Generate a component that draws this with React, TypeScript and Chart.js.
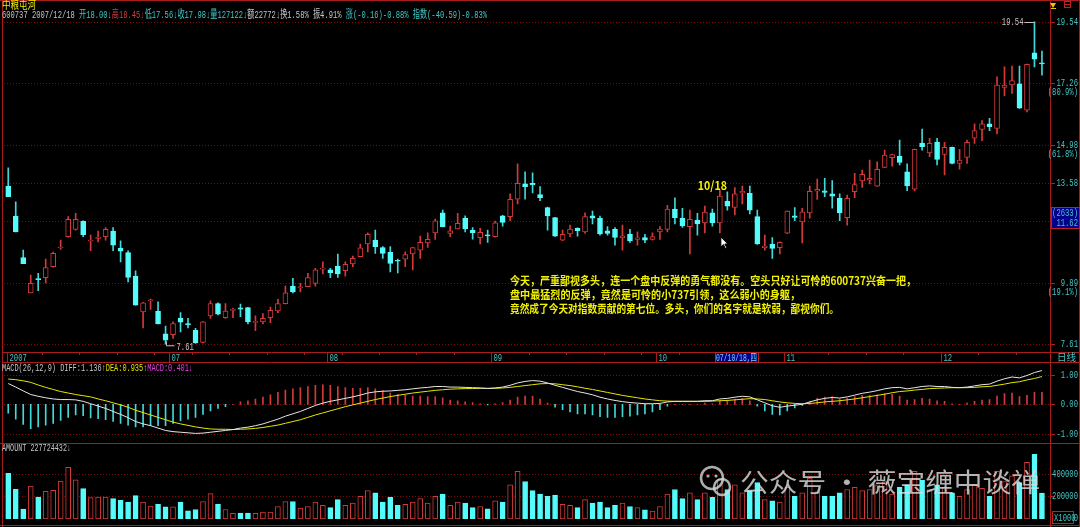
import React, { useEffect, useRef } from "react";
import { Chart, registerables } from "chart.js";
Chart.register(...registerables);

// ---------------- DATA ----------------
const open = [13.46,12.35,10.82,9.51,10.03,10.07,10.48,11.17,11.59,11.86,
 12.16,11.43,11.53,11.59,11.80,11.17,11.00,10.13,8.81,9.22,
 8.83,8.00,7.97,8.58,8.38,8.13,7.68,8.66,9.12,8.59,
 8.86,8.96,8.97,8.42,8.44,8.59,8.84,9.11,9.76,9.70,
 9.74,9.86,10.39,10.36,10.50,10.33,10.58,10.85,11.32,11.46,
 11.19,11.01,10.70,10.76,10.95,11.09,11.36,11.73,12.47,11.71,
 11.88,12.27,11.83,11.55,11.65,11.59,12.36,12.33,12.98,13.54,
 13.56,13.15,12.67,12.30,11.46,11.69,11.90,11.77,12.36,12.27,
 11.81,11.86,11.55,11.68,11.49,11.56,11.49,11.77,11.86,12.61,
 12.27,11.96,12.20,12.10,12.47,12.10,12.90,12.67,13.21,13.19,
 12.33,11.18,11.32,11.18,11.72,12.36,12.14,12.47,13.27,13.29,
 13.17,13.01,12.29,13.25,13.65,13.68,13.46,14.15,14.51,14.57,
 13.99,13.35,15.05,14.69,15.09,14.63,14.89,14.30,14.52,15.23,
 15.56,15.76,15.59,17.11,17.20,17.24,16.27,18.39,18.00];
const high = [14.14,12.88,11.09,10.17,10.23,10.76,11.02,11.46,12.33,12.45,
 12.18,11.65,11.80,11.93,11.93,11.44,11.07,10.33,9.16,9.28,
 9.18,8.28,8.44,8.78,8.57,8.20,8.45,9.22,9.14,9.12,
 8.94,9.10,8.98,8.66,8.75,8.99,9.27,9.76,10.05,9.86,
 10.23,10.42,10.66,10.42,10.95,10.66,10.87,11.32,11.73,11.83,
 11.22,11.22,10.76,11.03,11.20,11.61,11.73,12.24,12.57,11.98,
 12.45,12.36,11.93,11.90,11.83,12.17,12.38,13.17,14.28,13.99,
 13.95,13.44,12.68,12.31,11.83,12.02,11.92,12.47,12.54,12.35,
 11.96,11.93,12.02,11.86,11.77,11.68,11.73,11.96,12.75,13.03,
 12.64,12.57,12.45,12.72,12.61,13.31,13.25,13.41,13.46,13.46,
 12.57,11.65,11.56,11.40,12.55,12.67,12.64,13.46,13.72,13.75,
 13.66,13.17,13.13,13.93,14.05,14.42,14.36,14.79,14.64,15.16,
 14.28,14.83,15.57,15.23,15.23,15.08,14.90,14.82,15.16,15.76,
 15.88,15.97,17.50,17.87,17.90,17.90,17.97,19.54,18.45];
const low = [13.07,11.77,10.59,9.51,9.59,9.88,10.46,11.12,11.57,11.83,
 11.59,11.07,11.40,11.46,11.07,10.66,9.92,9.06,8.22,8.90,
 8.36,7.61,7.83,8.07,8.22,7.64,7.66,8.57,8.70,8.57,
 8.59,8.63,8.36,8.11,8.36,8.41,8.78,9.10,9.51,9.55,
 9.74,9.76,10.21,10.07,10.08,10.13,10.48,10.84,11.03,10.97,
 10.79,10.29,10.25,10.48,10.36,10.79,11.19,11.49,11.95,11.59,
 11.88,11.77,11.50,11.32,11.38,11.57,11.98,12.18,12.80,12.98,
 13.21,12.92,11.83,11.60,11.44,11.59,11.61,11.71,12.06,11.65,
 11.65,11.28,11.09,11.38,11.28,11.37,11.46,11.49,11.77,12.06,
 11.93,10.95,11.65,11.73,11.98,11.73,12.57,12.39,12.80,12.43,
 11.30,11.09,10.79,10.95,11.70,12.18,11.36,12.27,12.97,13.07,
 12.64,12.18,12.02,13.03,13.41,13.54,13.45,14.14,14.20,14.24,
 13.29,13.28,14.79,14.55,14.24,13.87,14.28,14.09,14.30,15.04,
 15.14,15.51,15.39,16.80,16.89,16.33,16.20,17.87,17.56];
const close = [13.07,11.77,10.59,9.86,10.00,10.45,10.97,11.20,12.23,12.23,
 11.66,11.45,11.57,11.86,11.28,11.05,10.08,9.06,9.14,9.24,
 8.36,7.76,8.38,8.43,8.33,7.66,8.44,9.12,8.72,8.84,
 8.90,8.91,8.44,8.45,8.57,8.87,9.12,9.51,9.55,9.73,
 10.08,10.36,10.41,10.26,10.21,10.57,10.79,11.18,11.68,11.22,
 10.97,10.60,10.68,10.93,11.19,11.38,11.49,12.18,11.96,11.81,
 12.08,11.88,11.73,11.75,11.62,12.10,12.12,12.97,13.56,13.44,
 13.50,13.03,12.36,11.61,11.68,11.87,11.81,12.33,12.27,11.69,
 11.71,11.56,11.62,11.43,11.55,11.46,11.59,11.87,12.61,12.29,
 11.99,12.23,12.06,12.50,12.10,13.09,12.72,13.17,13.27,12.57,
 11.32,11.24,11.16,11.38,12.54,12.30,12.51,13.27,13.34,13.23,
 13.09,12.47,13.01,13.52,13.90,13.75,14.08,14.61,14.63,14.34,
 13.47,14.82,14.92,15.04,14.45,14.89,14.30,14.42,15.08,15.51,
 15.76,15.66,17.20,17.20,17.36,16.34,17.96,18.15,17.98];
// AMOUNT, in units of 1000
const amount = [402600,261000,87000,290000,194000,243000,252000,333000,455000,345000,
 267000,189000,194000,194000,180000,165000,148000,206000,148000,113000,
 130000,107000,107000,148000,72000,84000,154000,223000,130000,84000,
 50000,52000,52000,50000,61000,61000,110000,154000,154000,96000,
 110000,150000,120000,100000,170000,120000,140000,200000,250000,230000,
 150000,190000,120000,130000,150000,180000,140000,200000,220000,120000,
 150000,140000,100000,110000,90000,160000,150000,300000,420000,330000,
 250000,220000,200000,210000,130000,120000,100000,170000,140000,150000,
 100000,120000,140000,110000,100000,80000,70000,110000,220000,260000,
 180000,230000,170000,230000,190000,350000,260000,300000,230000,250000,
 320000,170000,160000,150000,280000,200000,230000,360000,240000,200000,
 200000,230000,260000,280000,250000,260000,300000,330000,220000,280000,
 300000,420000,340000,260000,300000,280000,230000,200000,260000,300000,
 270000,200000,420000,330000,380000,320000,500000,570000,227724.432];
const diff = [0.70,0.58,0.45,0.33,0.27,0.22,0.18,0.16,0.16,0.15,
 0.10,0.02,-0.06,-0.14,-0.24,-0.34,-0.45,-0.58,-0.66,-0.72,
 -0.80,-0.88,-0.92,-0.94,-0.96,-0.98,-0.97,-0.94,-0.91,-0.88,
 -0.85,-0.80,-0.77,-0.72,-0.66,-0.58,-0.50,-0.40,-0.32,-0.24,
 -0.14,-0.04,0.04,0.10,0.15,0.20,0.25,0.31,0.38,0.42,
 0.44,0.45,0.47,0.49,0.52,0.55,0.57,0.60,0.60,0.58,
 0.58,0.57,0.56,0.55,0.53,0.55,0.58,0.64,0.72,0.77,
 0.80,0.78,0.72,0.64,0.57,0.50,0.43,0.38,0.32,0.24,
 0.18,0.13,0.09,0.06,0.04,0.02,0.02,0.03,0.08,0.10,
 0.10,0.10,0.10,0.12,0.12,0.18,0.20,0.24,0.27,0.25,
 0.15,0.05,-0.05,-0.10,-0.06,-0.03,0.00,0.08,0.15,0.20,
 0.23,0.21,0.25,0.31,0.37,0.41,0.46,0.52,0.56,0.57,
 0.52,0.56,0.60,0.62,0.60,0.60,0.57,0.56,0.58,0.62,
 0.66,0.68,0.78,0.86,0.92,0.89,0.97,1.07,1.136];
const dea = [0.85,0.83,0.79,0.74,0.65,0.57,0.50,0.43,0.38,0.33,
 0.29,0.25,0.18,0.12,0.05,-0.02,-0.10,-0.20,-0.28,-0.36,
 -0.44,-0.52,-0.60,-0.66,-0.71,-0.76,-0.80,-0.83,-0.84,-0.84,
 -0.85,-0.84,-0.83,-0.81,-0.78,-0.74,-0.70,-0.64,-0.58,-0.52,
 -0.44,-0.36,-0.29,-0.22,-0.15,-0.08,-0.02,0.04,0.10,0.16,
 0.21,0.26,0.30,0.34,0.38,0.41,0.44,0.47,0.49,0.51,
 0.52,0.53,0.53,0.54,0.54,0.54,0.55,0.57,0.60,0.63,
 0.66,0.69,0.70,0.69,0.66,0.63,0.59,0.54,0.50,0.45,
 0.40,0.35,0.30,0.26,0.22,0.18,0.15,0.12,0.11,0.10,
 0.10,0.10,0.10,0.10,0.11,0.12,0.13,0.15,0.17,0.19,
 0.18,0.16,0.12,0.08,0.05,0.03,0.02,0.03,0.05,0.08,
 0.10,0.12,0.15,0.18,0.22,0.26,0.30,0.34,0.39,0.43,
 0.45,0.48,0.50,0.53,0.54,0.55,0.56,0.56,0.56,0.57,
 0.59,0.60,0.64,0.68,0.73,0.76,0.82,0.87,0.935];
const macdBar = [-0.30,-0.50,-0.68,-0.82,-0.76,-0.70,-0.64,-0.54,-0.44,-0.36,
 -0.38,-0.46,-0.48,-0.52,-0.58,-0.64,-0.70,-0.76,-0.76,-0.72,
 -0.72,-0.72,-0.64,-0.56,-0.50,-0.44,-0.34,-0.22,-0.14,-0.08,
 0.00,0.08,0.12,0.18,0.24,0.32,0.40,0.48,0.52,0.56,
 0.60,0.64,0.66,0.64,0.60,0.56,0.54,0.54,0.56,0.52,
 0.46,0.38,0.34,0.30,0.28,0.28,0.26,0.26,0.22,0.14,
 0.12,0.08,0.06,0.02,-0.02,0.02,0.06,0.14,0.24,0.28,
 0.28,0.18,0.04,-0.10,-0.18,-0.26,-0.32,-0.32,-0.36,-0.42,
 -0.44,-0.44,-0.42,-0.40,-0.36,-0.32,-0.26,-0.18,-0.06,0.00,
 0.00,0.00,0.00,0.04,0.02,0.12,0.14,0.18,0.20,0.12,
 -0.06,-0.22,-0.34,-0.36,-0.22,-0.12,-0.04,0.10,0.20,0.24,
 0.26,0.18,0.20,0.26,0.30,0.30,0.32,0.36,0.34,0.28,
 0.14,0.16,0.20,0.18,0.12,0.10,0.02,0.00,0.04,0.10,
 0.14,0.16,0.28,0.36,0.38,0.26,0.30,0.40,0.401];

const monthLabels = ["2007", "07", "08", "09", "10", "11", "12"];
const monthStart = [0, 22, 43, 65, 87, 104, 125];
const priceTicks = [19.54, 17.26, 14.98, 13.58, 12.17, 9.89, 7.61];
const priceTickText = ["19.54", "17.26", "14.98", "13.58", "", "9.89", "7.61"];
const priceTickPct = ["", "(80.9%)", "(61.8%)", "", "", "(19.1%)", ""];
const macdTicks = [1, 0, -1];
const macdTickText = ["1.00", "0.00", "-1.00"];
const amountTicks = [400000, 200000];
const stockTitle = "中粮屯河";
const noteLines = [
  "今天，严重鄙视多头，连一个盘中反弹的勇气都没有。空头只好让可怜的600737兴奋一把，",
  "盘中最猛烈的反弹，竟然是可怜的小737引领，这么弱小的身躯，",
  "竟然成了今天对指数贡献的第七位。多头，你们的名字就是软弱，鄙视你们。",
];
const markIndex = 95; // 2007/10/18
const markLabel = "10/18";
const cursorDate = "07/10/18,四";
const days = open.map((_, i) => "d" + i);
const isUp = close.map((c, i) => c >= open[i]);

// ---------------- STYLE ----------------
const FRAME = "#a81c1c";
const GRID = "#7c0c0c";
const UPC = "#d43a3a";
const CYAN = "#54fcfc";
const WICK_CYAN = "#40d8d8";
const AXT = "#46c4c4";
const GRAY = "#c4c4c4";
const YEL = "#f2f200";
const MONO = '10px "Liberation Mono", "Noto Sans CJK SC"';

function txt(ctx: any, s: string, x: number, y: number, color: string, font = MONO, align = "left", sx = 0.72) {
  ctx.save();
  ctx.font = font;
  ctx.fillStyle = color;
  ctx.textBaseline = "middle";
  ctx.translate(x, y);
  ctx.scale(sx, 1);
  ctx.textAlign = align;
  ctx.fillText(s, 0, 0);
  ctx.restore();
}
function rich(ctx: any, segs: [string, string][], x: number, y: number, w: number, font: string) {
  ctx.save();
  ctx.font = font;
  const total = segs.reduce((s, [t]) => s + ctx.measureText(t).width, 0);
  ctx.translate(x, y);
  ctx.scale(w / total, 1);
  ctx.textBaseline = "middle";
  ctx.textAlign = "left";
  let cx = 0;
  for (const [t, c] of segs) {
    ctx.fillStyle = c;
    ctx.fillText(t, cx, 0);
    cx += ctx.measureText(t).width;
  }
  ctx.restore();
}
function hline(ctx: any, x0: number, x1: number, y: number, color: string, dash: number[] = []) {
  ctx.save();
  ctx.strokeStyle = color;
  ctx.lineWidth = 1;
  ctx.setLineDash(dash);
  ctx.beginPath();
  ctx.moveTo(x0, y);
  ctx.lineTo(x1, y);
  ctx.stroke();
  ctx.restore();
}
function vline(ctx: any, x: number, y0: number, y1: number, color: string) {
  ctx.save();
  ctx.strokeStyle = color;
  ctx.lineWidth = 1;
  ctx.beginPath();
  ctx.moveTo(x, y0);
  ctx.lineTo(x, y1);
  ctx.stroke();
  ctx.restore();
}
function frameSides(ctx: any, h: number) {
  vline(ctx, 2.5, 0, h, FRAME);
  vline(ctx, 1050.5, 0, h, FRAME);
  vline(ctx, 1079.5, 0, h, FRAME);
}

const PAD = { left: 4.5, right: 34.3 };

// ---------------- PRICE PANE ----------------
const pricePlugin = {
  id: "pricePane",
  beforeDraw(chart: any) {
    const { ctx, width, height } = chart;
    ctx.save();
    ctx.fillStyle = "#000";
    ctx.fillRect(0, 0, width, height);
    ctx.restore();
    const y = chart.scales.y;
    priceTicks.forEach((v) => {
      const py = Math.round(y.getPixelForValue(v)) + 0.5;
      hline(ctx, 4, 1050, py, GRID, [1, 2]);
    });
  },
  afterDraw(chart: any) {
    const { ctx } = chart;
    const x = chart.scales.x;
    const y = chart.scales.y;
    const half = (x.getPixelForValue(1) - x.getPixelForValue(0)) / 2;
    hline(ctx, 0, 1080, 0.5, FRAME);
    frameSides(ctx, 363);
    rich(ctx, [[stockTitle, "#f0f000"]], 2, 5, 34, '11px "Noto Sans CJK SC"');
    rich(
      ctx,
      [
        ["600737 2007/12/18 ", GRAY],
        ["开18.00", AXT], ["↓", AXT],
        ["高18.45", UPC], ["↓", UPC],
        ["低17.56", AXT], ["↓", AXT],
        ["收17.98", AXT], ["↓", AXT],
        ["量127122", AXT], ["↓", AXT],
        ["额22772", GRAY], ["↓", GRAY],
        ["换1.58% ", GRAY],
        ["振4.91% ", GRAY],
        ["涨(-0.16)-0.88% ", AXT],
        ["指数(-40.59)-0.83%", AXT],
      ],
      2, 15, 485, '11px "Liberation Mono", "Noto Sans CJK SC"'
    );
    ctx.save();
    ctx.fillStyle = "#e8c800";
    ctx.beginPath();
    ctx.moveTo(1050, 3); ctx.lineTo(1056, 3); ctx.lineTo(1053, 8); ctx.closePath(); ctx.fill();
    ctx.fillRect(1051, 8, 5, 1);
    ctx.strokeStyle = "#c02020";
    ctx.strokeRect(1064.5, 1.5, 6, 6);
    hline(ctx, 1064, 1071, 4.5, "#c02020");
    ctx.restore();
    priceTicks.forEach((v, i) => {
      const py = Math.round(y.getPixelForValue(v)) + 0.5;
      if (!priceTickText[i]) return;
      hline(ctx, 1051, 1055, py, FRAME);
      txt(ctx, priceTickText[i], 1078, py, AXT, MONO, "right");
      if (priceTickPct[i]) txt(ctx, priceTickPct[i], 1078, py + 9, AXT, MONO, "right");
    });
    ctx.save();
    ctx.fillStyle = "#00008c";
    ctx.fillRect(1052, 208, 27, 20);
    ctx.strokeStyle = "#c02020";
    ctx.strokeRect(1051.5, 207.5, 28, 21);
    ctx.restore();
    txt(ctx, "(2633)", 1078, 213, AXT, MONO, "right");
    txt(ctx, "11.62", 1078, 223, AXT, MONO, "right");
    const iMax = high.indexOf(Math.max(...high));
    const xm = x.getPixelForValue(iMax);
    const ym = Math.round(y.getPixelForValue(high[iMax])) + 0.5;
    hline(ctx, xm - 10, xm, ym, GRAY);
    txt(ctx, high[iMax].toFixed(2), xm - 11, ym, GRAY, MONO, "right");
    const iMin = low.indexOf(Math.min(...low));
    const xn = Math.round(x.getPixelForValue(iMin)) + 0.5;
    const yn = y.getPixelForValue(low[iMin]);
    ctx.save();
    ctx.strokeStyle = GRAY;
    ctx.beginPath();
    ctx.moveTo(xn, yn - 3); ctx.lineTo(xn, yn + 1.5); ctx.lineTo(xn + 8, yn + 1.5);
    ctx.stroke();
    ctx.restore();
    txt(ctx, low[iMin].toFixed(2), xn + 10, yn + 3, GRAY, MONO, "left");
    const ly = [281, 295, 309];
    const lw = [406, 290, 329];
    noteLines.forEach((s, i) => rich(ctx, [[s, YEL]], 510, ly[i], lw[i], 'bold 11px "Noto Sans CJK SC"'));
    const xMark = x.getPixelForValue(markIndex);
    rich(ctx, [[markLabel, YEL]], xMark - 22, 185, 29, 'bold 12px "Noto Sans CJK SC"');
    const px0 = xMark + 1, py0 = 237;
    ctx.save();
    ctx.fillStyle = "#fff";
    ctx.strokeStyle = "#000";
    ctx.beginPath();
    ctx.moveTo(px0, py0);
    ctx.lineTo(px0, py0 + 10);
    ctx.lineTo(px0 + 2.5, py0 + 7.5);
    ctx.lineTo(px0 + 4.5, py0 + 11.5);
    ctx.lineTo(px0 + 6, py0 + 10.8);
    ctx.lineTo(px0 + 4, py0 + 7);
    ctx.lineTo(px0 + 7, py0 + 7);
    ctx.closePath();
    ctx.fill();
    ctx.stroke();
    ctx.restore();
    hline(ctx, 2, 1080, 352.5, FRAME);
    hline(ctx, 2, 1080, 362.5, FRAME);
    for (let i = 5; i < open.length; i += 5) {
      const tx = Math.round(x.getPixelForValue(i) - half) + 0.5;
      vline(ctx, tx, 352, 355, FRAME);
    }
    monthStart.forEach((idx, k) => {
      const mx = Math.round(x.getPixelForValue(idx) - half) + 0.5 + (k === 0 ? 3 : 0);
      vline(ctx, mx, 352, 362, FRAME);
      txt(ctx, monthLabels[k], mx + 2, 358, AXT, MONO, "left");
    });
    const bx = Math.round(xMark - 5);
    ctx.save();
    ctx.fillStyle = "#00008c";
    ctx.fillRect(bx, 353, 43, 9);
    ctx.strokeStyle = "#c02020";
    ctx.strokeRect(bx + 0.5, 352.5, 43, 10);
    ctx.restore();
    rich(ctx, [[cursorDate, "#6cd8f0"]], bx + 1, 358, 41, '10px "Liberation Mono", "Noto Sans CJK SC"');
    rich(ctx, [["日线", AXT]], 1057, 357.5, 19, '10px "Noto Sans CJK SC"');
  },
};

function priceConfig(): any {
  return {
    type: "bar",
    data: {
      labels: days,
      datasets: [
        {
          label: "body",
          data: open.map((o, i) => [o, close[i]]),
          backgroundColor: isUp.map((u) => (u ? "#000" : CYAN)),
          borderColor: isUp.map((u) => (u ? UPC : CYAN)),
          borderWidth: 1,
          borderSkipped: false,
          barThickness: 5,
          minBarLength: 1,
          grouped: false,
        },
        {
          label: "wick",
          data: low.map((l, i) => [l, high[i]]),
          backgroundColor: isUp.map((u) => (u ? UPC : WICK_CYAN)),
          borderWidth: 0,
          barThickness: 1,
          grouped: false,
        },
      ],
    },
    options: {
      responsive: false,
      animation: false,
      devicePixelRatio: 1,
      events: [],
      layout: { padding: { left: PAD.left, right: PAD.right, top: 10, bottom: 11 } },
      plugins: { legend: { display: false }, tooltip: { enabled: false } },
      scales: {
        x: { display: false, offset: true, grid: { display: false } },
        y: { display: false, min: 7.325, max: 19.973 },
      },
    },
    plugins: [pricePlugin],
  };
}

// ---------------- MACD PANE ----------------
const macdPlugin = {
  id: "macdPane",
  beforeDraw(chart: any) {
    const { ctx, width, height } = chart;
    ctx.save();
    ctx.fillStyle = "#000";
    ctx.fillRect(0, 0, width, height);
    ctx.restore();
    const y = chart.scales.y;
    macdTicks.forEach((v) => hline(ctx, 4, 1050, Math.round(y.getPixelForValue(v)) + 0.5, GRID, [1, 2]));
  },
  afterDraw(chart: any) {
    const { ctx } = chart;
    const y = chart.scales.y;
    frameSides(ctx, 80);
    macdTicks.forEach((v, i) => {
      const py = Math.round(y.getPixelForValue(v)) + 0.5;
      hline(ctx, 1051, 1055, py, FRAME);
      txt(ctx, macdTickText[i], 1078, py, AXT, MONO, "right");
    });
    const n = diff.length - 1;
    rich(
      ctx,
      [
        ["MACD(26,12,9) DIFF:" + diff[n].toFixed(3), GRAY], ["↑", GRAY],
        ["DEA:" + dea[n].toFixed(3), "#e0e000"], ["↑", "#e0e000"],
        ["MACD:" + macdBar[n].toFixed(3), "#e040e0"], ["↓", "#e040e0"],
      ],
      2, 5, 191, '10px "Liberation Mono", "Noto Sans CJK SC"'
    );
  },
};

function macdConfig(): any {
  return {
    type: "bar",
    data: {
      labels: days,
      datasets: [
        { type: "line", label: "DIFF", data: diff, borderColor: "#e6e6e6", borderWidth: 1, pointRadius: 0, tension: 0, fill: false },
        { type: "line", label: "DEA", data: dea, borderColor: "#e6e600", borderWidth: 1, pointRadius: 0, tension: 0, fill: false },
        {
          type: "bar",
          label: "MACD",
          data: macdBar,
          backgroundColor: macdBar.map((v) => (v >= 0 ? UPC : WICK_CYAN)),
          borderWidth: 0,
          barThickness: 1,
          grouped: false,
        },
      ],
    },
    options: {
      responsive: false,
      animation: false,
      devicePixelRatio: 1,
      events: [],
      layout: { padding: { left: PAD.left, right: PAD.right, top: 0, bottom: 0 } },
      plugins: { legend: { display: false }, tooltip: { enabled: false } },
      scales: {
        x: { display: false, offset: true, grid: { display: false } },
        y: { display: false, min: -1.303, max: 1.391 },
      },
    },
    plugins: [macdPlugin],
  };
}

// ---------------- AMOUNT PANE ----------------
const volPlugin = {
  id: "volPane",
  beforeDraw(chart: any) {
    const { ctx, width, height } = chart;
    ctx.save();
    ctx.fillStyle = "#000";
    ctx.fillRect(0, 0, width, height);
    ctx.restore();
    const y = chart.scales.y;
    amountTicks.forEach((v) => hline(ctx, 4, 1050, Math.round(y.getPixelForValue(v)) + 0.5, GRID, [1, 2]));
  },
  afterDraw(chart: any) {
    const { ctx } = chart;
    const y = chart.scales.y;
    hline(ctx, 0, 1080, 0.5, FRAME);
    hline(ctx, 0, 1080, 82.5, FRAME);
    frameSides(ctx, 84);
    amountTicks.forEach((v) => {
      const py = Math.round(y.getPixelForValue(v)) + 0.5;
      hline(ctx, 1051, 1055, py, FRAME);
      txt(ctx, String(v), 1078, py, AXT, MONO, "right");
    });
    txt(ctx, "0", 1078, Math.round(y.getPixelForValue(0)) - 1, AXT, MONO, "right");
    ctx.save();
    ctx.fillStyle = "#000";
    ctx.fillRect(1052, 68, 22, 13);
    ctx.strokeStyle = "#c02020";
    ctx.strokeRect(1052.5, 68.5, 21, 12);
    ctx.restore();
    txt(ctx, "X1000", 1054, 75, AXT, MONO, "left");
    rich(ctx, [["AMOUNT " + Math.round(amount[amount.length - 1] * 1000), GRAY], ["↓", GRAY]], 2, 5, 69, '10px "Liberation Mono", "Noto Sans CJK SC"');
    ctx.save();
    ctx.globalAlpha = 0.8;
    ctx.strokeStyle = "#d8d8d8";
    ctx.fillStyle = "#d8d8d8";
    ctx.lineWidth = 2.5;
    ctx.beginPath();
    ctx.arc(712, 35, 11, 0, Math.PI * 2);
    ctx.stroke();
    ctx.beginPath();
    ctx.arc(722, 44, 8, 0, Math.PI * 2);
    ctx.stroke();
    ctx.beginPath();
    ctx.arc(708, 33, 1.6, 0, Math.PI * 2);
    ctx.arc(716, 33, 1.6, 0, Math.PI * 2);
    ctx.fill();
    ctx.restore();
    ctx.save();
    ctx.globalAlpha = 0.82;
    rich(ctx, [["公众号 · 薇宝缠中谈禅", "#dcdcdc"]], 740, 39, 300, '26px "Noto Sans CJK SC"');
    ctx.restore();
  },
};

function volConfig(): any {
  return {
    type: "bar",
    data: {
      labels: days,
      datasets: [
        {
          label: "AMOUNT",
          data: amount,
          backgroundColor: isUp.map((u) => (u ? "#000" : CYAN)),
          borderColor: isUp.map((u) => (u ? UPC : CYAN)),
          borderWidth: 1,
          borderSkipped: false,
          barThickness: 5,
          grouped: false,
        },
      ],
    },
    options: {
      responsive: false,
      animation: false,
      devicePixelRatio: 1,
      events: [],
      layout: { padding: { left: PAD.left, right: PAD.right, top: 0, bottom: 8 } },
      plugins: { legend: { display: false }, tooltip: { enabled: false } },
      scales: {
        x: { display: false, offset: true, grid: { display: false } },
        y: { display: false, min: 0, max: 669600 },
      },
    },
    plugins: [volPlugin],
  };
}

export default function App() {
  const pRef = useRef<HTMLCanvasElement>(null);
  const mRef = useRef<HTMLCanvasElement>(null);
  const vRef = useRef<HTMLCanvasElement>(null);
  useEffect(() => {
    document.body.style.margin = "0";
    document.body.style.background = "#000";
    const charts = [
      new Chart(pRef.current as HTMLCanvasElement, priceConfig()),
      new Chart(mRef.current as HTMLCanvasElement, macdConfig()),
      new Chart(vRef.current as HTMLCanvasElement, volConfig()),
    ];
    return () => charts.forEach((c) => c.destroy());
  }, []);
  const cs = (top: number, h: number): any => ({ position: "absolute", left: 0, top, width: 1080, height: h, display: "block" });
  return (
    <div style={{ position: "absolute", left: 0, top: 0, width: 1080, height: 527, background: "#000", overflow: "hidden" }}>
      <canvas ref={pRef} width={1080} height={363} style={cs(0, 363)} />
      <canvas ref={mRef} width={1080} height={80} style={cs(363, 80)} />
      <canvas ref={vRef} width={1080} height={84} style={cs(443, 84)} />
    </div>
  );
}
